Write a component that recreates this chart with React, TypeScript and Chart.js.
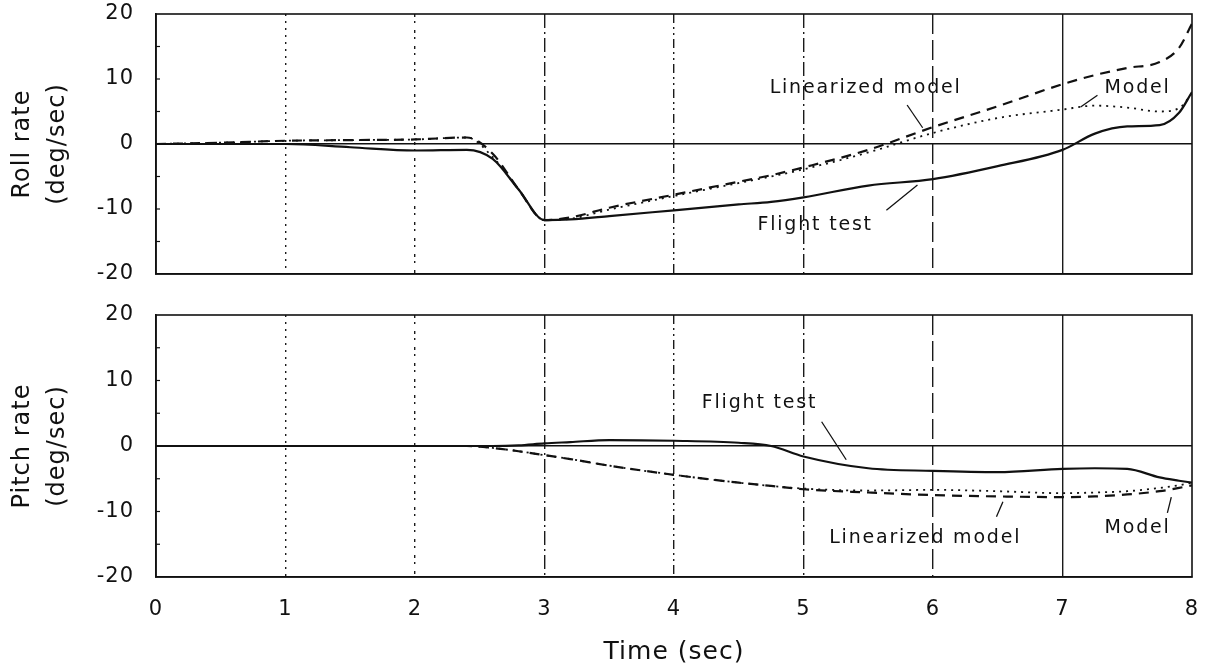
import React, { useEffect, useRef } from 'react';
import { Chart, registerables } from 'chart.js';

Chart.register(...registerables);

// ---------- data ----------
const TIME = [0, 0.5, 1, 1.5, 2, 2.4, 2.6, 2.8, 3, 3.2, 3.5, 4, 4.5, 4.75, 5, 5.5, 6, 6.5, 7, 7.25, 7.5, 7.75, 7.9, 8];

const ROLL_FLIGHT = [0, 0, 0, -0.5, -1.0, -0.9, -2.3, -7.0, -11.7, -11.6, -11.1, -10.2, -9.3, -8.9, -8.2, -6.4, -5.4, -3.4, -0.9, 1.6, 2.7, 2.9, 4.8, 8.0];
const ROLL_LINEARIZED = [0, 0.2, 0.5, 0.6, 0.7, 1.0, -1.5, -7.0, -11.7, -11.3, -9.8, -7.8, -5.8, -4.8, -3.6, -0.9, 2.6, 5.8, 9.2, 10.6, 11.7, 12.6, 14.8, 18.5];
const ROLL_MODEL = [0, 0.2, 0.5, 0.6, 0.7, 1.0, -2.0, -7.0, -11.7, -11.5, -10.1, -8.0, -6.0, -5.0, -3.9, -1.3, 1.7, 4.0, 5.3, 5.9, 5.6, 5.0, 5.5, 7.8];

const PITCH_FLIGHT = [0, 0, 0, 0, 0, 0, 0, 0.1, 0.4, 0.6, 0.9, 0.8, 0.5, 0, -1.6, -3.4, -3.8, -4.0, -3.5, -3.4, -3.5, -4.8, -5.3, -5.6];
const PITCH_LINEARIZED = [0, 0, 0, 0, 0, 0, -0.3, -0.8, -1.4, -2.0, -3.0, -4.4, -5.6, -6.1, -6.6, -7.1, -7.5, -7.7, -7.8, -7.7, -7.4, -6.9, -6.4, -6.0];
const PITCH_MODEL = [0, 0, 0, 0, 0, 0, -0.3, -0.8, -1.4, -2.0, -3.0, -4.4, -5.6, -6.1, -6.5, -6.8, -6.7, -6.9, -7.2, -7.1, -6.9, -6.4, -6.0, -5.6];

const X_TICKS = [0, 1, 2, 3, 4, 5, 6, 7, 8];
const Y_TICKS = [-20, -10, 0, 10, 20];
const Y_MINOR = [-15, -10, -5, 5, 10, 15];

const ROLL_TITLE = ['Roll rate', '(deg/sec)'];
const PITCH_TITLE = ['Pitch rate', '(deg/sec)'];
const X_TITLE = 'Time (sec)';

type Note = { text: string; t: number; v: number; from: [number, number]; to: [number, number] };

const ROLL_NOTES: Note[] = [
  { text: 'Linearized model', t: 5.48, v: 8.6, from: [5.8, 6.0], to: [5.92, 2.5] },
  { text: 'Model', t: 7.58, v: 8.6, from: [7.27, 7.5], to: [7.14, 5.7] },
  { text: 'Flight test', t: 5.09, v: -12.5, from: [5.64, -10.2], to: [5.88, -6.3] },
];
const PITCH_NOTES: Note[] = [
  { text: 'Flight test', t: 4.66, v: 6.6, from: [5.14, 3.7], to: [5.33, -2.1] },
  { text: 'Linearized model', t: 5.94, v: -14.0, from: [6.49, -10.8], to: [6.54, -8.5] },
  { text: 'Model', t: 7.58, v: -12.5, from: [7.81, -10.2], to: [7.84, -7.8] },
];

const GRID_DASH: Record<number, number[]> = {
  1: [2, 5],
  2: [3, 4, 2, 7],
  3: [14, 4, 2, 4],
  4: [9, 4, 2, 4, 2, 4],
  5: [14, 4, 2, 4],
  6: [20, 6],
  7: [],
};

const FONT = "'DejaVu Sans', sans-serif";
const INK = '#111';

const framePlugin = {
  id: 'frame',
  beforeDraw(chart: any) {
    (chart.ctx as any).letterSpacing = '1px';
  },
  afterDraw(chart: any, _args: any, opts: any) {
    const ctx = chart.ctx;
    const { left, right, top, bottom } = chart.chartArea;
    const xs = chart.scales.x;
    const ys = chart.scales.y;
    ctx.save();
    ctx.setLineDash([]);
    ctx.strokeStyle = INK;
    ctx.lineWidth = 1.6;
    ctx.strokeRect(left, top, right - left, bottom - top);
    // inner minor ticks on left axis
    ctx.lineWidth = 1.2;
    Y_MINOR.forEach((v) => {
      const y = ys.getPixelForValue(v);
      ctx.beginPath();
      ctx.moveTo(left, y);
      ctx.lineTo(left + 4, y);
      ctx.stroke();
    });
    const notes: Note[] = (opts && opts.notes) || [];
    (ctx as any).letterSpacing = '1.8px';
    ctx.font = `19px ${FONT}`;
    ctx.fillStyle = INK;
    ctx.textAlign = 'center';
    ctx.textBaseline = 'middle';
    notes.forEach((n) => {
      ctx.fillText(n.text, xs.getPixelForValue(n.t), ys.getPixelForValue(n.v));
      ctx.beginPath();
      ctx.moveTo(xs.getPixelForValue(n.from[0]), ys.getPixelForValue(n.from[1]));
      ctx.lineTo(xs.getPixelForValue(n.to[0]), ys.getPixelForValue(n.to[1]));
      ctx.lineWidth = 1.3;
      ctx.stroke();
    });
    ctx.restore();
    (ctx as any).letterSpacing = '0px';
  },
};

function series(label: string, values: number[], dash: number[], width: number) {
  return {
    label,
    data: TIME.map((t, i) => ({ x: t, y: values[i] })),
    borderColor: INK,
    borderWidth: width,
    borderDash: dash,
    pointRadius: 0,
    fill: false,
    cubicInterpolationMode: 'monotone' as const,
  };
}

function makeConfig(opts: {
  datasets: any[];
  yTitle: string[];
  notes: Note[];
  showX: boolean;
  padding: any;
  xHeight: number;
}) {
  return {
    type: 'line' as const,
    data: { datasets: opts.datasets },
    plugins: [framePlugin],
    options: {
      responsive: false,
      animation: false as const,
      devicePixelRatio: 1,
      layout: { padding: opts.padding },
      plugins: {
        legend: { display: false },
        tooltip: { enabled: false },
        frame: { notes: opts.notes },
      },
      scales: {
        x: {
          type: 'linear' as const,
          min: 0,
          max: 8,
          afterBuildTicks: (s: any) => {
            s.ticks = X_TICKS.map((v) => ({ value: v }));
          },
          afterFit: (s: any) => {
            s.height = opts.xHeight;
            s.paddingLeft = 0;
            s.paddingRight = 0;
            s.paddingTop = 0;
            s.paddingBottom = 0;
          },
          ticks: {
            display: opts.showX,
            color: INK,
            padding: 20,
            font: { family: FONT, size: 21 },
            maxRotation: 0,
            callback: (v: any) => String(v),
          },
          grid: {
            drawTicks: false,
            lineWidth: 1.4,
            color: (c: any) =>
              c.tick && c.tick.value > 0 && c.tick.value < 8 ? '#1a1a1a' : 'rgba(0,0,0,0)',
          },
          border: {
            display: true,
            color: INK,
            width: 1.6,
            dash: (c: any) => (c.tick ? GRID_DASH[c.tick.value] || [] : []),
          },
          title: {
            display: opts.showX,
            text: X_TITLE,
            color: INK,
            font: { family: FONT, size: 25 },
            padding: { top: 0, bottom: 4 },
          },
        },
        y: {
          min: -20,
          max: 20,
          afterBuildTicks: (s: any) => {
            s.ticks = Y_TICKS.map((v) => ({ value: v }));
          },
          afterFit: (s: any) => {
            s.width = 156;
            s.paddingLeft = 0;
            s.paddingRight = 0;
            s.paddingTop = 0;
            s.paddingBottom = 0;
          },
          ticks: {
            color: INK,
            padding: 22,
            font: { family: FONT, size: 21 },
            callback: (v: any) => String(v),
          },
          grid: {
            drawTicks: false,
            lineWidth: 1.6,
            color: (c: any) => (c.tick && c.tick.value === 0 ? INK : 'rgba(0,0,0,0)'),
          },
          border: { display: true, color: INK, width: 1.6 },
          title: {
            display: true,
            text: opts.yTitle,
            color: INK,
            font: { family: FONT, size: 24, lineHeight: 1.46 },
            padding: { top: 5, bottom: 0 },
          },
        },
      },
    },
  };
}

export default function App() {
  const topRef = useRef<HTMLCanvasElement>(null);
  const botRef = useRef<HTMLCanvasElement>(null);

  useEffect(() => {
    document.body.style.margin = '0';
    const top = new Chart(
      topRef.current as HTMLCanvasElement,
      makeConfig({
        datasets: [
          series('Flight test', ROLL_FLIGHT, [], 2.2),
          series('Linearized model', ROLL_LINEARIZED, [10, 7], 2.2),
          series('Model', ROLL_MODEL, [2, 5], 1.8),
        ],
        yTitle: ROLL_TITLE,
        notes: ROLL_NOTES,
        showX: false,
        padding: { top: 14, right: 14, left: 0, bottom: 26 },
        xHeight: 0,
      }) as any
    );
    const bot = new Chart(
      botRef.current as HTMLCanvasElement,
      makeConfig({
        datasets: [
          series('Flight test', PITCH_FLIGHT, [], 2.2),
          series('Linearized model', PITCH_LINEARIZED, [10, 7], 2.2),
          series('Model', PITCH_MODEL, [2, 5], 1.8),
        ],
        yTitle: PITCH_TITLE,
        notes: PITCH_NOTES,
        showX: true,
        padding: { top: 15, right: 14, left: 0, bottom: 0 },
        xHeight: 94,
      }) as any
    );
    return () => {
      top.destroy();
      bot.destroy();
    };
  }, []);

  return (
    <div style={{ position: 'relative', width: 1206, height: 671, background: '#fff' }}>
      <canvas ref={topRef} width={1206} height={300} style={{ position: 'absolute', left: 0, top: 0 }} />
      <canvas ref={botRef} width={1206} height={371} style={{ position: 'absolute', left: 0, top: 300 }} />
    </div>
  );
}
